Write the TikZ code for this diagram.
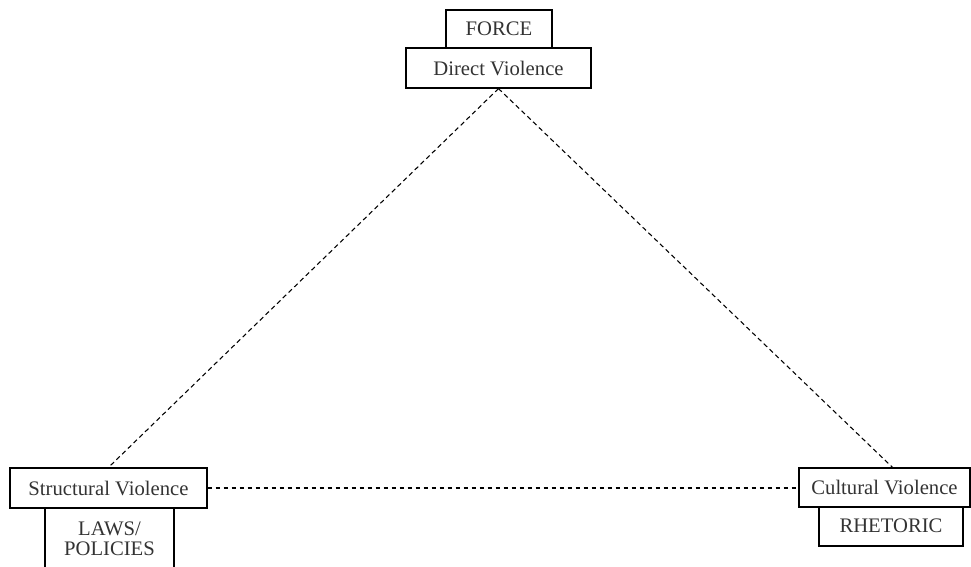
\documentclass[tikz,border=0pt]{standalone}
\usepackage{fontspec}
\setmainfont{Liberation Serif}
\begin{document}
\begin{tikzpicture}[x=0.75pt,y=-0.75pt,
  box/.style={draw,fill=white,line width=0.9pt,inner sep=0pt,font=\fontsize{15.5}{17}\selectfont,text=black!80,align=center},
  conn/.style={line width=0.8pt,dash pattern=on 3.5pt off 2.5pt}]
\useasboundingbox (0,0) rectangle (971,567);
\node[box,minimum width=106*0.75pt,minimum height=38*0.75pt] (force) at (499,29) {FORCE};
\node[box,minimum width=185*0.75pt,minimum height=40*0.75pt] (direct) at (498.5,68) {Direct Violence};
\node[box,minimum width=129*0.75pt,minimum height=62*0.75pt] (laws) at (109.5,539) {LAWS/\\[-2pt]POLICIES};
\node[box,minimum width=197*0.75pt,minimum height=40*0.75pt] (struct) at (108.5,488) {Structural Violence};
\node[box,minimum width=144*0.75pt,minimum height=40*0.75pt] (rhet) at (891,526) {RHETORIC};
\node[box,minimum width=171*0.75pt,minimum height=39*0.75pt] (cult) at (884.5,487.5) {Cultural Violence};
\draw[conn] (direct.south) -- (struct.north);
\draw[conn] (direct.south) -- ([xshift=6pt]cult.north);
\draw[conn] (struct.east) -- (struct.east -| cult.west);
\end{tikzpicture}
\end{document}
